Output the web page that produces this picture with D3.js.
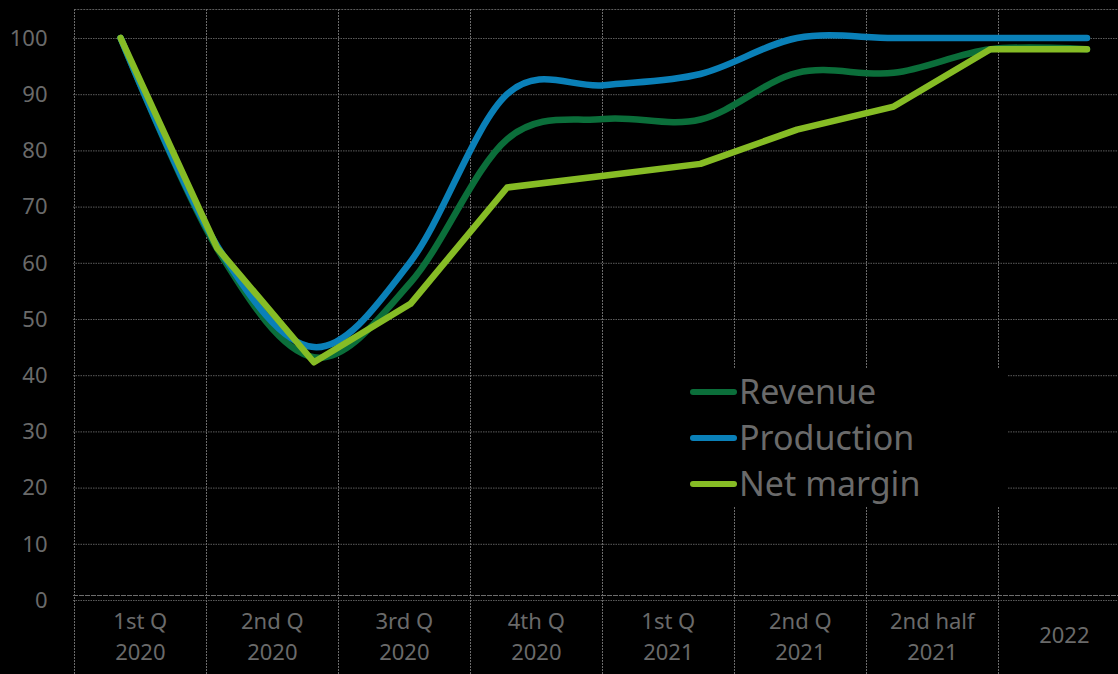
<!DOCTYPE html>
<html>
<head>
<meta charset="utf-8">
<script src="https://cdn.jsdelivr.net/npm/d3@7"></script>
<style>
    body { margin: 0; background: #000; }
    #chart-area { width: 1118px; height: 674px; }
    text { font-family: "Noto Sans", sans-serif; }
</style>
</head>
<body>
<div id="chart-area"></div>
<script>

// category labels on the x axis (two rows each)
let categories = [
    ["1st Q", "2020"], ["2nd Q", "2020"], ["3rd Q", "2020"], ["4th Q", "2020"],
    ["1st Q", "2021"], ["2nd Q", "2021"], ["2nd half", "2021"], ["2022"]
];

// the lines are plotted on 11 evenly spaced points
let pointIndex = d3.range(11);

let revenue    = [100, 62.5, 43.2, 56.5, 82.0, 85.6, 85.5, 93.8, 93.8, 98, 98];
let production = [100, 63.0, 45.0, 60.2, 90.0, 91.6, 93.6, 100, 100, 100, 100];
let netMargin  = [100, 62.6, 42.3, 52.7, 73.4, 75.5, 77.6, 83.7, 87.8, 98, 98];

let yTicks = d3.range(0, 101, 10);

let seriesNames = ["Revenue", "Production", "Net margin"];
let seriesValues = [revenue, production, netMargin];

class LineVis {

    constructor(parentElement) {
        this.parentElement = parentElement;
        this.initVis();
    }

    initVis() {
        let vis = this;

        vis.width = 1118;
        vis.height = 674;
        vis.plot = {left: 74.3, right: 1130.3, top: 9, bottom: 600};

        vis.svg = d3.select("#" + vis.parentElement).append("svg")
            .attr("width", vis.width)
            .attr("height", vis.height);

        vis.x = d3.scaleBand()
            .domain(d3.range(categories.length))
            .range([vis.plot.left, vis.plot.right]);

        vis.xPts = d3.scaleBand()
            .domain(pointIndex)
            .range([vis.plot.left - 2, vis.plot.right + 5]);

        vis.y = d3.scaleLinear()
            .domain([0, 100])
            .range([vis.plot.bottom, 38]);

        vis.colors = d3.scaleOrdinal()
            .domain(seriesNames)
            .range(["#0b6e3a", "#0a80b8", "#86bc25"]);

        vis.wrangleData();
    }

    wrangleData() {
        let vis = this;

        vis.displayData = seriesNames.map((name, i) => ({
            name: name,
            smooth: name !== "Net margin",
            values: seriesValues[i].map((v, j) => ({idx: j, value: v}))
        }));

        vis.updateVis();
    }

    updateVis() {
        let vis = this;

        // horizontal grid
        vis.svg.append("g").selectAll("line").data(yTicks)
            .enter().append("line")
            .attr("x1", vis.plot.left - 1.3).attr("x2", vis.width)
            .attr("y1", d => vis.y(d) + 0.5).attr("y2", d => vis.y(d) + 0.5)
            .attr("stroke", "#5c5c5c")
            .attr("stroke-dasharray", "1.5,1");

        // plot area top
        vis.svg.append("line")
            .attr("x1", vis.plot.left).attr("x2", vis.width)
            .attr("y1", vis.plot.top + 0.5).attr("y2", vis.plot.top + 0.5)
            .attr("stroke", "#5c5c5c")
            .attr("stroke-dasharray", "2,1");

        // vertical dividers between categories
        vis.svg.append("g").selectAll("line").data(d3.range(categories.length))
            .enter().append("line")
            .attr("x1", d => Math.round(vis.x(d)) + 0.5)
            .attr("x2", d => Math.round(vis.x(d)) + 0.5)
            .attr("y1", vis.plot.top).attr("y2", vis.height)
            .attr("stroke", "#6a6a6a")
            .attr("stroke-dasharray", "2,1");

        // category axis line
        vis.svg.append("line")
            .attr("x1", vis.plot.left - 1.3).attr("x2", vis.width)
            .attr("y1", vis.plot.bottom - 4.5).attr("y2", vis.plot.bottom - 4.5)
            .attr("stroke", "#6e6e6e")
            .attr("stroke-dasharray", "5,1");

        // y axis labels
        vis.svg.append("g").selectAll("text").data(yTicks)
            .enter().append("text")
            .attr("x", 47.5)
            .attr("y", d => vis.y(d))
            .attr("dy", "0.35em")
            .attr("text-anchor", "end")
            .attr("font-size", "22px")
            .attr("fill", "#6a6a6a")
            .text(d => d);

        // x axis labels
        let xLabels = vis.svg.append("g").selectAll("text").data(categories)
            .enter().append("text")
            .attr("text-anchor", "middle")
            .attr("font-size", "22px")
            .attr("fill", "#6a6a6a")
            .attr("transform", (d, i) => `translate(${vis.x(i) + vis.x.bandwidth() / 2}, 0)`);

        xLabels.selectAll("tspan").data(d => d.map((t, k) => ({t: t, k: k, n: d.length})))
            .enter().append("tspan")
            .attr("x", 0)
            .attr("y", d => d.n === 1 ? 643 : 629 + d.k * 31)
            .text(d => d.t);

        // lines
        let lineSmooth = d3.line()
            .x(d => vis.xPts(d.idx) + vis.xPts.bandwidth() / 2)
            .y(d => vis.y(d.value))
            .curve(d3.curveCardinal.tension(0));

        let lineStraight = d3.line()
            .x(d => vis.xPts(d.idx) + vis.xPts.bandwidth() / 2)
            .y(d => vis.y(d.value));

        vis.svg.append("g").selectAll("path").data(vis.displayData)
            .enter().append("path")
            .attr("d", d => d.smooth ? lineSmooth(d.values) : lineStraight(d.values))
            .attr("fill", "none")
            .attr("stroke", d => vis.colors(d.name))
            .attr("stroke-width", 6.5)
            .attr("stroke-linecap", "round")
            .attr("stroke-linejoin", "round");

        // legend with black box over the grid
        let legend = vis.svg.append("g");

        legend.append("rect")
            .attr("x", 603).attr("y", 368)
            .attr("width", 404).attr("height", 139)
            .attr("fill", "#000");

        let items = legend.selectAll("g.item").data(seriesNames)
            .enter().append("g")
            .attr("class", "item")
            .attr("transform", (d, i) => `translate(0, ${392 + i * 46})`);

        items.append("line")
            .attr("x1", 693).attr("x2", 734)
            .attr("stroke", d => vis.colors(d))
            .attr("stroke-width", 6)
            .attr("stroke-linecap", "round");

        items.append("text")
            .attr("x", 739)
            .attr("y", 11.5)
            .attr("font-size", "34px")
            .attr("fill", "#6a6a6a")
            .text(d => d);
    }
}

new LineVis("chart-area");

</script>
</body>
</html>
